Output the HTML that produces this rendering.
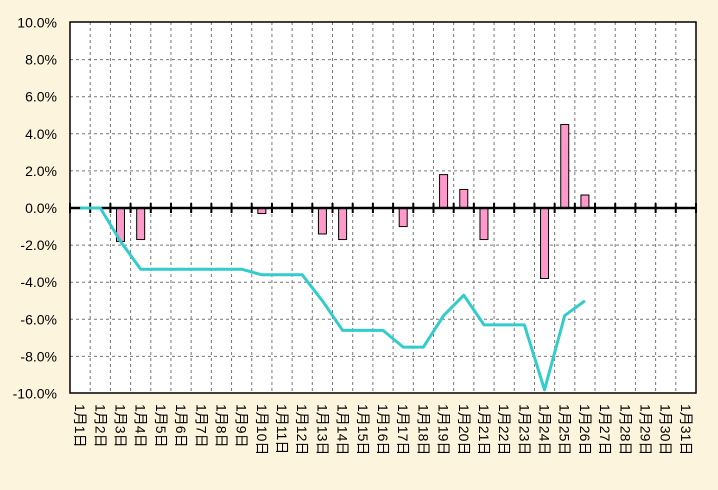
<!DOCTYPE html>
<html><head><meta charset="utf-8"><style>
html,body{margin:0;padding:0;}
body{width:718px;height:485px;background:#fcf4dc;overflow:hidden;}
svg text{font-family:"Liberation Sans","Noto Sans CJK JP",sans-serif;font-size:14px;fill:#000;}
</style></head><body>
<svg width="718" height="485" xmlns="http://www.w3.org/2000/svg">
<rect x="0" y="0" width="718" height="485" fill="#fcf4dc"/>
<rect x="70" y="22" width="626" height="371" fill="#fff"/>
<g id="grid" stroke="#777" stroke-dasharray="3,3" stroke-width="1"></g>
<g id="bars"></g>
<g id="axis"></g>
<polyline id="line" fill="none" stroke="#33cccc" stroke-width="3" stroke-linejoin="round"/>
<rect x="70" y="22" width="626" height="371" fill="none" stroke="#000" stroke-width="1.5"/>
<g id="ylab"></g>
<g id="xlab"></g>
</svg>
<script>
var L=70,R=696,T=22,B=393,Z=208,W=(R-L)/31,S=(B-T)/20;
function y(v){return Z-v*S;}
var ns="http://www.w3.org/2000/svg";
function el(p,t,a,txt){var e=document.createElementNS(ns,t);for(var k in a)e.setAttribute(k,a[k]);if(txt)e.textContent=txt;document.getElementById(p).appendChild(e);return e;}
for(var k=1;k<31;k++){var x=L+W*k;el("grid","line",{x1:x,y1:T,x2:x,y2:B});}
for(var v=-8;v<=8;v+=2){if(v==0)continue;el("grid","line",{x1:L,y1:y(v),x2:R,y2:y(v)});}
var bars={3:-1.8,4:-1.7,10:-0.3,13:-1.4,14:-1.7,17:-1.0,19:1.8,20:1.0,21:-1.7,24:-3.8,25:4.5,26:0.7};
for(var d in bars){var c=L+W*(d-0.5),v=bars[d];el("bars","rect",{x:c-4,y:Math.min(y(v),Z),width:8,height:Math.abs(v*S),fill:"#ff99cc",stroke:"#000","stroke-width":1});}
el("axis","line",{x1:L,y1:Z,x2:R,y2:Z,stroke:"#000","stroke-width":2.5});
for(var k=0;k<=31;k++){var x=L+W*k;el("axis","line",{x1:x,y1:Z-5,x2:x,y2:Z+5,stroke:"#000","stroke-width":2});}
var ln=[0,0,-1.8,-3.3,-3.3,-3.3,-3.3,-3.3,-3.3,-3.6,-3.6,-3.6,-5.0,-6.6,-6.6,-6.6,-7.5,-7.5,-5.8,-4.7,-6.3,-6.3,-6.3,-9.8,-5.8,-5.0];
document.getElementById("line").setAttribute("points",ln.map(function(v,i){return (L+W*(i+0.5)).toFixed(1)+","+y(v).toFixed(1);}).join(" "));
for(var v=-10;v<=10;v+=2){el("ylab","text",{x:57,y:y(v)+5,"text-anchor":"end"},(v<0?"-":"")+Math.abs(v).toFixed(1)+"%");}
for(var d=1;d<=31;d++){var c=L+W*(d-0.5);el("xlab","text",{x:0,y:0,transform:"translate("+(c-5)+",404) rotate(90)","font-size":"14"},"1月"+d+"日");}
</script>
</body></html>
